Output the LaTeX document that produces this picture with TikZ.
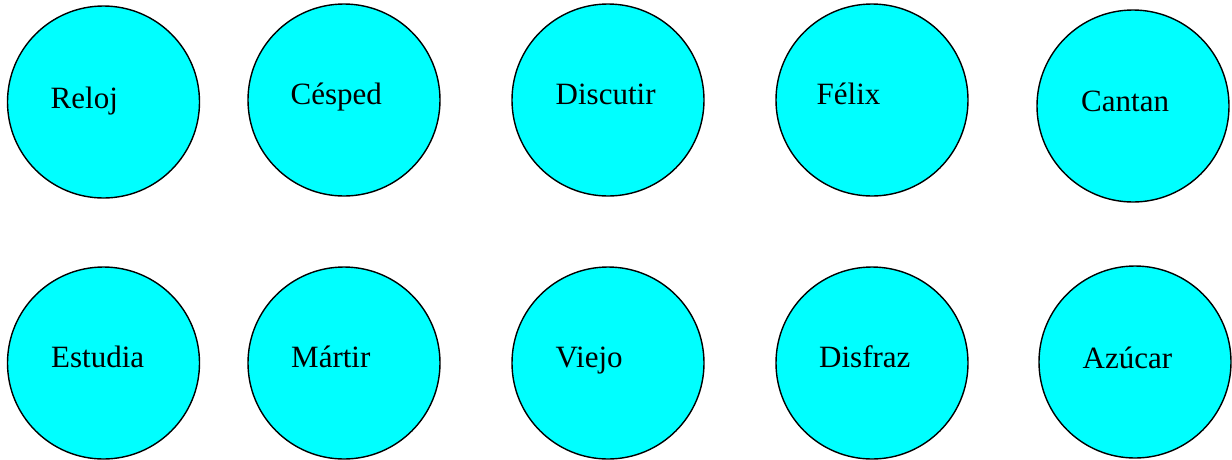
\documentclass[tikz,border=0pt]{standalone}
\usepackage{fontspec}
\setmainfont{Liberation Serif}
\definecolor{aqua}{RGB}{0,255,255}
\begin{document}
\begin{tikzpicture}[x=1pt,y=-1pt,
  ball/.style={circle, draw=black, line width=1.4pt, fill=aqua, minimum size=192pt, inner sep=0pt},
  word/.style={anchor=base west, inner sep=0pt, font=\fontsize{31}{37}\selectfont}]
\useasboundingbox (0,0) rectangle (1232,459);
% upper row
\node[ball] (c1) at (103.5,102) {};
\node[ball] (c2) at (344,100) {};
\node[ball] (c3) at (608,100) {};
\node[ball] (c4) at (872,100) {};
\node[ball] (c5) at (1133,106) {};
% lower row
\node[ball] (c6) at (103.5,363) {};
\node[ball] (c7) at (344,363) {};
\node[ball] (c8) at (608,363) {};
\node[ball] (c9) at (872,363) {};
\node[ball] (c10) at (1135,362) {};
% words
\node[word] (w1) at (50.5,108) {Reloj};
\node[word] (w2) at (290.5,104) {Césped};
\node[word] (w3) at (555.5,104) {Discutir};
\node[word] (w4) at (816.5,104) {Félix};
\node[word] (w5) at (1081,111.5) {Cantan};
\node[word] (w6) at (51,367) {Estudia};
\node[word] (w7) at (291,367) {Mártir};
\node[word] (w8) at (555.5,367) {Viejo};
\node[word] (w9) at (819,367) {Disfraz};
\node[word] (w10) at (1082.5,368) {Azúcar};
\end{tikzpicture}
\end{document}
